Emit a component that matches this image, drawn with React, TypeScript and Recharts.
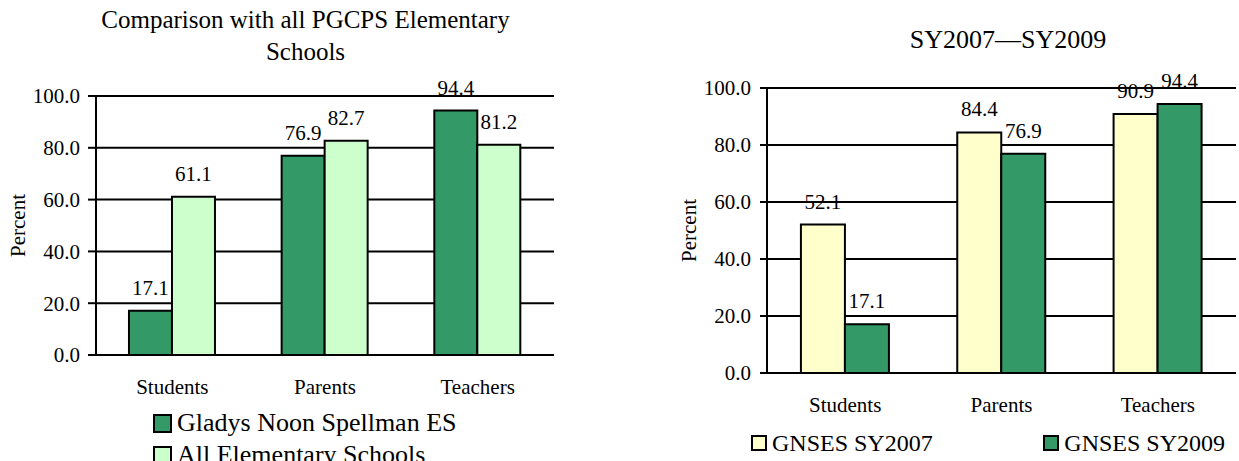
import { BarChart, Bar, XAxis, YAxis, CartesianGrid, LabelList, Legend, Label } from 'recharts';

const categories = ['Students', 'Parents', 'Teachers'];
const spellman = [17.1, 76.9, 94.4];
const allElementary = [61.1, 82.7, 81.2];
const sy2007 = [52.1, 84.4, 90.9];
const sy2009 = [17.1, 76.9, 94.4];
const yTicks = [0, 20, 40, 60, 80, 100];
const bandEdges = [0, 1, 2, 3];

const FONT = "'Liberation Serif', 'Times New Roman', serif";
const DARK = '#339966';
const LIGHT = '#CCFFCC';
const CREAM = '#FFFFCC';

const leftData = categories.map((name, i) => ({ name, a: spellman[i], b: allElementary[i] }));
const rightData = categories.map((name, i) => ({ name, a: sy2007[i], b: sy2009[i] }));

const leftSeries = [
  { key: 'a', name: 'Gladys Noon Spellman ES', color: DARK },
  { key: 'b', name: 'All Elementary Schools', color: LIGHT },
];
const rightSeries = [
  { key: 'a', name: 'GNSES SY2007', color: CREAM },
  { key: 'b', name: 'GNSES SY2009', color: DARK },
];

const axisStroke = { stroke: '#000', strokeWidth: 2 };
const tickText = { fill: '#000', fontSize: 21, fontFamily: FONT };
const fmt = (v: any) => Number(v).toFixed(1);

// rotated "Percent" centred on the plot height
const percentLabel = (cx: number) => (props: any) => {
  const vb = props.viewBox || {};
  const cy = vb.y + vb.height / 2;
  return (
    <text
      x={cx}
      y={cy}
      transform={`rotate(-90 ${cx} ${cy})`}
      textAnchor="middle"
      dominantBaseline="central"
      fontSize={21}
      fontFamily={FONT}
      fill="#000"
    >
      Percent
    </text>
  );
};

const Swatch = ({ color, size }: { color: string; size: number }) => (
  <span
    style={{
      display: 'inline-block',
      width: size,
      height: size,
      border: '2px solid #000',
      background: color,
      marginRight: 5,
    }}
  />
);

const LeftLegend = () => (
  <div style={{ fontFamily: FONT, fontSize: 26, lineHeight: '32px', color: '#000', whiteSpace: 'nowrap' }}>
    {leftSeries.map((s) => (
      <div key={s.key} style={{ display: 'flex', alignItems: 'center' }}>
        <Swatch color={s.color} size={15} />
        {s.name}
      </div>
    ))}
  </div>
);

const RightLegend = () => (
  <div
    style={{
      fontFamily: FONT,
      fontSize: 24,
      lineHeight: '30px',
      color: '#000',
      whiteSpace: 'nowrap',
      display: 'flex',
      justifyContent: 'space-between',
      width: 474,
    }}
  >
    {rightSeries.map((s) => (
      <div key={s.key} style={{ display: 'flex', alignItems: 'center' }}>
        <Swatch color={s.color} size={12} />
        {s.name}
      </div>
    ))}
  </div>
);

const App = () => {
  return (
    <div
      style={{
        position: 'absolute',
        left: 0,
        top: 0,
        width: 1239,
        height: 461,
        overflow: 'hidden',
        background: '#fff',
        fontFamily: FONT,
      }}
    >
      <style>{`
        .recharts-wrapper, .recharts-wrapper text, .recharts-legend-wrapper, .recharts-legend-wrapper * {
          font-family: 'Liberation Serif', 'Times New Roman', serif !important;
        }
      `}</style>

      {/* titles */}
      <div style={{ position: 'absolute', left: 0, top: 4, width: 611, textAlign: 'center', fontSize: 25, lineHeight: '32px' }}>
        Comparison with all PGCPS Elementary
        <br />
        Schools
      </div>
      <div style={{ position: 'absolute', left: 808, top: 24, width: 400, textAlign: 'center', fontSize: 26, lineHeight: '32px' }}>
        SY2007—SY2009
      </div>

      <div style={{ position: 'absolute', left: 0, top: 0 }}>
        <BarChart
          width={560}
          height={461}
          data={leftData}
          margin={{ top: 96, right: 6, bottom: 66, left: 0 }}
          barCategoryGap="21.6%"
          barGap={0}
        >
          <CartesianGrid xAxisId="cat" vertical={false} stroke="#000" strokeWidth={2} />
          <XAxis
            xAxisId="edge"
            type="number"
            domain={[0, 3]}
            ticks={bandEdges}
            allowDataOverflow
            tickFormatter={() => ''}
            tickSize={7}
            tickLine={axisStroke}
            axisLine={false}
            height={0}
          />
          <XAxis
            xAxisId="cat"
            dataKey="name"
            height={40}
            tickLine={false}
            tickSize={0}
            tickMargin={24}
            axisLine={axisStroke}
            tick={tickText}
            interval={0}
          />
          <YAxis
            domain={[0, 100]}
            ticks={yTicks}
            interval={0}
            tickFormatter={fmt}
            width={96}
            tickSize={8}
            tickMargin={8}
            axisLine={axisStroke}
            tickLine={axisStroke}
            tick={tickText}
          >
            <Label content={percentLabel(18)} />
          </YAxis>
          {leftSeries.map((s) => (
            <Bar key={s.key} xAxisId="cat" dataKey={s.key} name={s.name} fill={s.color} stroke="#000" strokeWidth={2} isAnimationActive={false}>
              <LabelList dataKey={s.key} position="top" offset={16} formatter={fmt} fill="#000" fontSize={21} fontFamily={FONT} />
            </Bar>
          ))}
          <Legend
            content={<LeftLegend />}
            wrapperStyle={{ left: 153, top: 407, bottom: 'auto', height: 0, width: 'auto' }}
          />
        </BarChart>
      </div>

      <div style={{ position: 'absolute', left: 620, top: 0 }}>
        <BarChart
          width={619}
          height={461}
          data={rightData}
          margin={{ top: 88, right: 3, bottom: 48, left: 0 }}
          barCategoryGap="21.7%"
          barGap={0}
        >
          <CartesianGrid xAxisId="cat" vertical={false} stroke="#000" strokeWidth={2} />
          <XAxis
            xAxisId="edge"
            type="number"
            domain={[0, 3]}
            ticks={bandEdges}
            allowDataOverflow
            tickFormatter={() => ''}
            tickSize={7}
            tickLine={axisStroke}
            axisLine={false}
            height={0}
          />
          <XAxis
            xAxisId="cat"
            dataKey="name"
            height={40}
            tickLine={false}
            tickSize={0}
            tickMargin={24}
            axisLine={axisStroke}
            tick={tickText}
            interval={0}
          />
          <YAxis
            domain={[0, 100]}
            ticks={yTicks}
            interval={0}
            tickFormatter={fmt}
            width={147}
            tickSize={7}
            tickMargin={9}
            axisLine={axisStroke}
            tickLine={axisStroke}
            tick={tickText}
          >
            <Label content={percentLabel(69)} />
          </YAxis>
          {rightSeries.map((s) => (
            <Bar key={s.key} xAxisId="cat" dataKey={s.key} name={s.name} fill={s.color} stroke="#000" strokeWidth={2} isAnimationActive={false}>
              <LabelList dataKey={s.key} position="top" offset={16} formatter={fmt} fill="#000" fontSize={21} fontFamily={FONT} />
            </Bar>
          ))}
          <Legend
            content={<RightLegend />}
            wrapperStyle={{ left: 131, top: 428, bottom: 'auto', height: 0, width: 'auto' }}
          />
        </BarChart>
      </div>
    </div>
  );
};

export default App;
